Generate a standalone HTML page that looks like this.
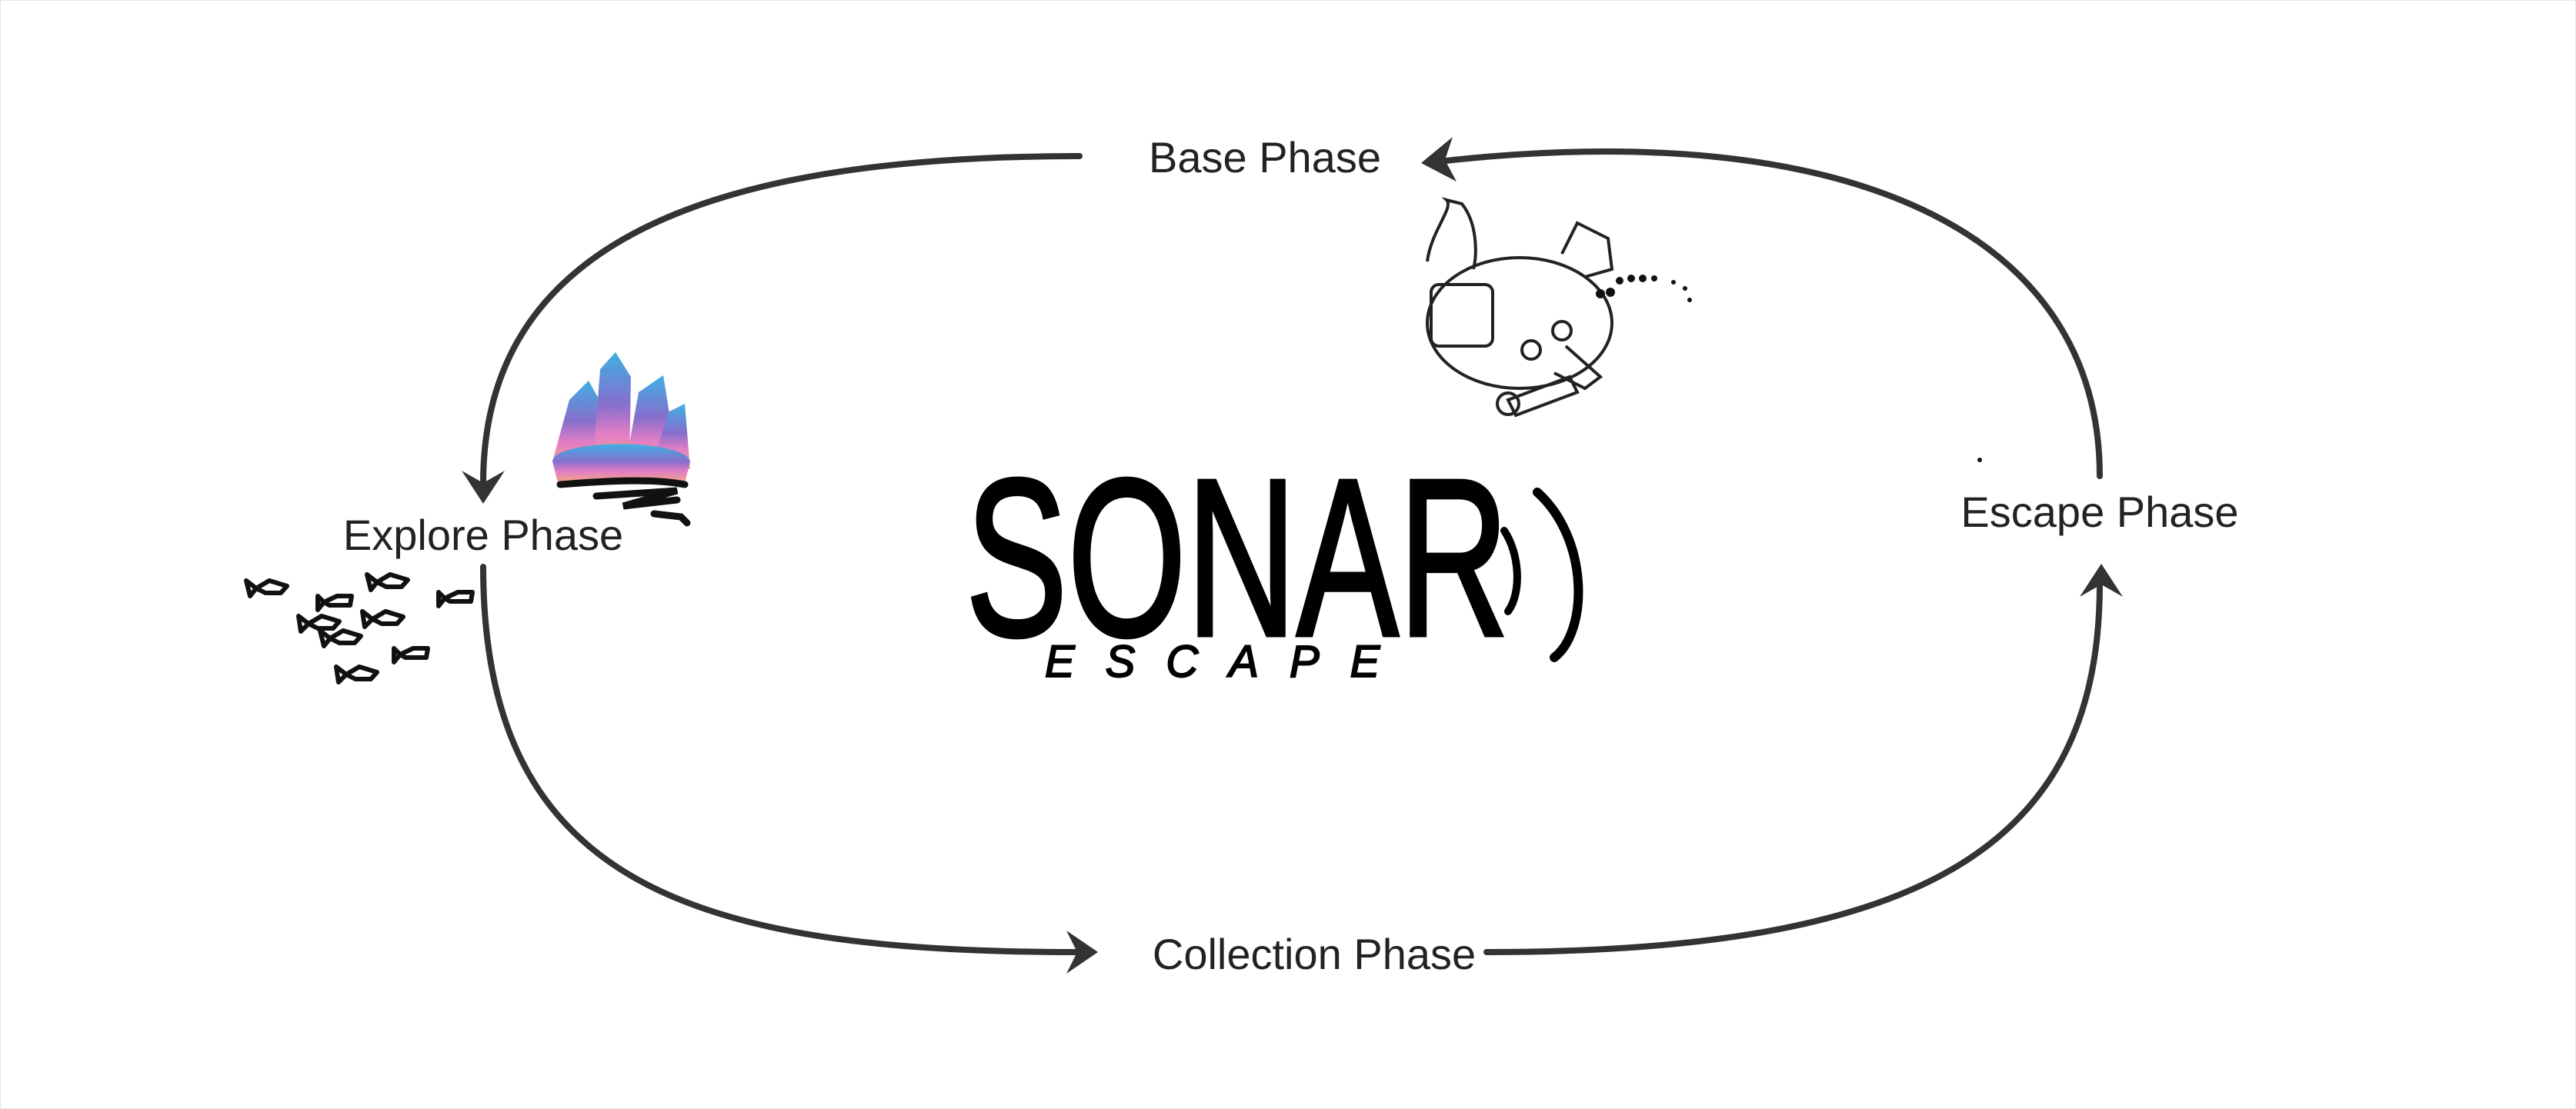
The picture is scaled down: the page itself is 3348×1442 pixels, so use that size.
<!DOCTYPE html>
<html><head><meta charset="utf-8"><style>
html,body{margin:0;padding:0;background:#fff;}
svg{display:block;}
text{font-family:"Liberation Sans",sans-serif;}
</style></head><body>
<svg width="3348" height="1442" viewBox="0 0 3348 1442" xmlns="http://www.w3.org/2000/svg">
<rect x="0.5" y="0.5" width="3347" height="1441" fill="#fff" stroke="#e4e4e4" stroke-width="1"/>
<defs>
<linearGradient id="cg" x1="0" y1="0" x2="0" y2="1">
<stop offset="0" stop-color="#2aa8e0"/><stop offset="0.45" stop-color="#7a5fc8"/><stop offset="0.7" stop-color="#e070c0"/><stop offset="1" stop-color="#f0a070"/>
</linearGradient>
</defs>
<g fill="none" stroke="#333" stroke-width="8" stroke-linecap="round">
<path d="M1403,203 C950,203 628,300 628,628"/>
<path d="M628,737 C628,1150 900,1238 1400,1238"/>
<path d="M1932,1238 C2500,1238 2729,1100 2729,760"/>
<path d="M2729,619 C2729,300 2400,150 1870,210"/>
</g>
<g fill="#333">
<path d="M628,655 L600,612 L628,628 L656,612 Z"/>
<path d="M1427,1238 L1386,1210 L1400,1238 L1386,1266 Z"/>
<path d="M2731,733 L2703,776 L2731,760 L2759,776 Z"/>
<path d="M1847,212 L1888,178 L1878,208 L1893,236 Z"/>
</g>
<g font-size="56" fill="#222" text-anchor="middle">
<text x="1644" y="224">Base Phase</text>
<text x="628" y="715">Explore Phase</text>
<text x="2729" y="685">Escape Phase</text>
<text x="1708" y="1260">Collection Phase</text>
</g>
<!-- logo -->
<text x="1255" y="826" font-size="292" fill="#000" stroke="#000" stroke-width="5" transform="translate(1255,0) scale(0.68,1) translate(-1255,0)">SONAR</text>
<path d="M1955,690 C1975,720 1978,770 1960,795" fill="none" stroke="#000" stroke-width="10" stroke-linecap="round"/>
<path d="M1998,640 C2065,700 2065,820 2020,855" fill="none" stroke="#000" stroke-width="12" stroke-linecap="round"/>
<text x="1358" y="880" font-size="58" font-style="italic" fill="#000" stroke="#000" stroke-width="2" letter-spacing="40">ESCAPE</text>
<!-- crystals -->
<g fill="url(#cg)" opacity="0.9">
<path d="M718,600 L740,520 L765,495 L790,540 L800,610 Z"/>
<path d="M770,610 L780,480 L800,458 L820,490 L818,610 Z"/>
<path d="M812,610 L830,510 L862,488 L872,550 L860,610 Z"/>
<path d="M845,610 L870,535 L890,525 L897,610 Z"/>
<path d="M718,600 C720,570 890,570 897,600 L890,628 L725,628 Z"/>
</g>
<g stroke="#111" stroke-width="9" fill="none" stroke-linecap="round">
<path d="M728,630 C790,625 850,622 890,630"/>
<path d="M775,645 L880,638 L810,658 L880,650"/>
<path d="M850,668 L885,672 L893,680"/>
</g>
<!-- submarine -->
<g fill="none" stroke="#222" stroke-width="4">
<ellipse cx="1975" cy="420" rx="120" ry="85"/>
<path d="M1855,340 C1860,300 1890,270 1880,260 L1900,265 C1920,290 1920,330 1915,350"/>
<rect x="1860" y="370" width="80" height="80" rx="10"/>
<circle cx="1990" cy="455" r="12"/><circle cx="2030" cy="430" r="12"/>
<path d="M1960,520 L2040,490 L2050,510 L1970,540 Z"/><circle cx="1960" cy="525" r="14"/>
<path d="M2035,450 L2080,490 L2060,505 L2020,485"/>
<path d="M2030,330 L2050,290 L2090,310 L2095,350 L2060,360"/>
</g>
<g fill="#111"><circle cx="2080" cy="382" r="6"/><circle cx="2093" cy="380" r="6"/><circle cx="2105" cy="365" r="5"/><circle cx="2120" cy="362" r="5"/><circle cx="2135" cy="362" r="5"/><circle cx="2150" cy="362" r="4"/><circle cx="2175" cy="367" r="3"/><circle cx="2190" cy="375" r="3"/><circle cx="2196" cy="390" r="3"/><circle cx="2573" cy="598" r="3"/></g>
<!-- fish -->
<g fill="none" stroke="#111" stroke-width="6" stroke-linejoin="round">
<g transform="translate(345,765)"><path d="M-12,0 L5,-10 L28,-3 L20,6 L0,6 Z M-12,0 L-25,-10 L-20,10 Z"/></g>
<g transform="translate(433,783)"><path d="M-12,0 L5,-8 L24,-8 L22,4 L-5,4 Z M-12,0 L-20,-8 L-20,10 Z"/></g>
<g transform="translate(502,757)"><path d="M-12,0 L5,-10 L28,-3 L20,6 L0,6 Z M-12,0 L-25,-10 L-20,10 Z"/></g>
<g transform="translate(590,778)"><path d="M-12,0 L5,-8 L24,-8 L22,4 L-5,4 Z M-12,0 L-20,-8 L-20,10 Z"/></g>
<g transform="translate(413,811)"><path d="M-12,0 L5,-10 L28,-3 L20,6 L0,6 Z M-12,0 L-25,-10 L-22,10 Z"/></g>
<g transform="translate(496,805)"><path d="M-12,0 L5,-10 L28,-3 L20,6 L0,6 Z M-12,0 L-25,-10 L-22,10 Z"/></g>
<g transform="translate(441,830)"><path d="M-12,0 L5,-10 L28,-3 L20,6 L0,6 Z M-12,0 L-25,-10 L-20,10 Z"/></g>
<g transform="translate(532,851)"><path d="M-12,0 L5,-8 L24,-8 L22,4 L-5,4 Z M-12,0 L-20,-8 L-20,10 Z"/></g>
<g transform="translate(462,877)"><path d="M-12,0 L5,-10 L28,-3 L20,6 L0,6 Z M-12,0 L-25,-10 L-22,10 Z"/></g>
</g>
</svg>
</body></html>
